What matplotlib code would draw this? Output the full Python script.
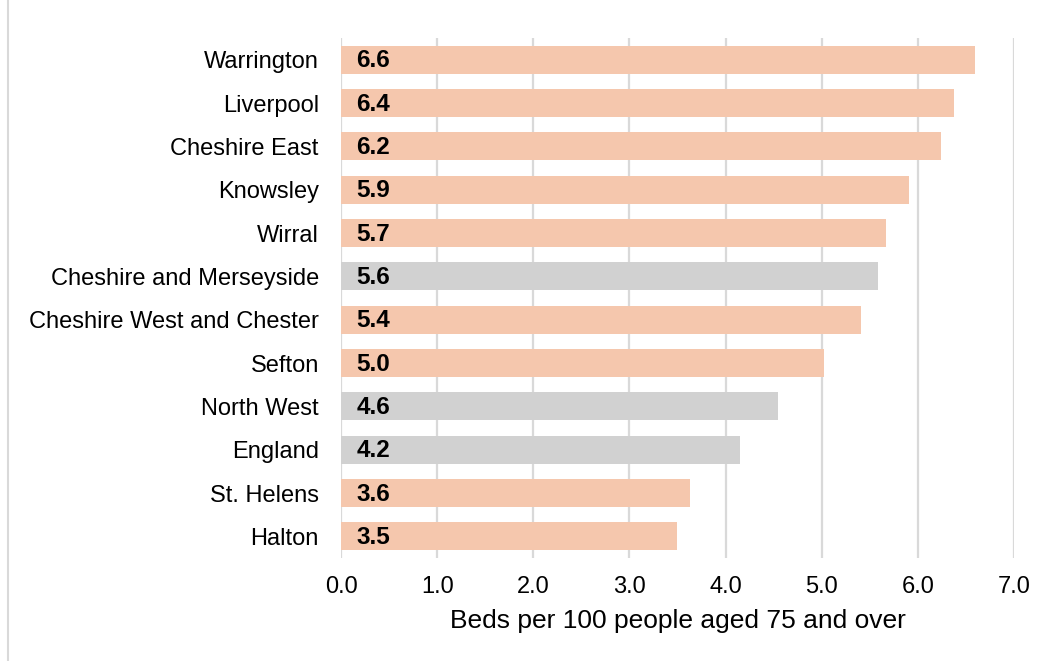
import matplotlib
matplotlib.use('Agg')
import matplotlib.pyplot as plt
from matplotlib.lines import Line2D

# Datos
areas = ['Warrington', 'Liverpool', 'Cheshire East', 'Knowsley', 'Wirral',
         'Cheshire and Merseyside', 'Cheshire West and Chester', 'Sefton',
         'North West', 'England', 'St. Helens', 'Halton']
beds = [6.59, 6.38, 6.24, 5.91, 5.67, 5.59, 5.41, 5.02, 4.55, 4.15, 3.63, 3.49]
labels = ['6.6', '6.4', '6.2', '5.9', '5.7', '5.6', '5.4', '5.0', '4.6', '4.2', '3.6', '3.5']
comparators = ['Cheshire and Merseyside', 'North West', 'England']
xticks = [0, 1, 2, 3, 4, 5, 6, 7]

ORANGE = '#F5C7AD'
GREY = '#D1D1D1'

plt.rcParams['font.family'] = ['Liberation Sans', 'DejaVu Sans']

fig = plt.figure(figsize=(10.5, 6.61), dpi=100)
ax = fig.add_axes([0.3248, 0.1558, 0.6409, 0.7867])

colors = [GREY if a in comparators else ORANGE for a in areas]
ypos = list(range(len(areas)))
ax.barh(ypos, beds, height=0.65, color=colors, zorder=2)

for y, lab in zip(ypos, labels):
    ax.text(0.16, y + 0.03, lab, ha='left', va='center', fontsize=17.5,
            fontweight='bold', color='black', zorder=3)

ax.set_ylim(len(areas) - 0.5, -0.5)
ax.set_xlim(0, 7)
ax.set_yticks(ypos)
ax.set_yticklabels(areas, fontsize=17)
ax.set_xticks(xticks)
ax.set_xticklabels([f'{v:.1f}' for v in xticks], fontsize=17)
ax.tick_params(axis='y', length=0, pad=16)
ax.tick_params(axis='x', length=0, pad=13)

ax.grid(axis='x', color='#D9D9D9', linewidth=1.6, zorder=0)
for s in ax.spines.values():
    s.set_visible(False)

ax.set_xlabel('Beds per 100 people aged 75 and over', fontsize=19, labelpad=8)

# borde izquierdo de la imagen
fig.add_artist(Line2D([8 / 1050, 8 / 1050], [0, 1], color='#D9D9D9',
                      linewidth=1.5, transform=fig.transFigure))

fig.savefig('out.png', dpi=100)
